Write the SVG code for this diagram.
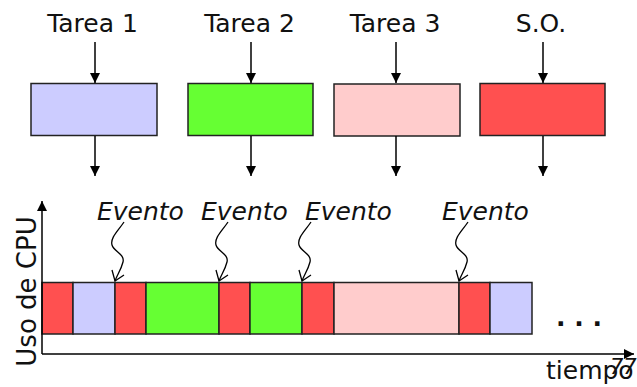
<svg xmlns="http://www.w3.org/2000/svg" width="637" height="387" viewBox="0 0 637 387">
  <style>
    .lbl { font-family: "DejaVu Sans", Verdana, sans-serif; font-size: 25px; fill: #111; }
    .ev { font-family: "DejaVu Sans", Verdana, sans-serif; font-size: 25px; font-style: italic; fill: #111; }
    .box { stroke: #222; stroke-width: 1.5; }
    .seg { stroke: #222; stroke-width: 1.5; }
    .line { stroke: #000; stroke-width: 1.5; fill: none; }
    .sq { stroke: #000; stroke-width: 1.3; fill: none; }
    .so { fill: #FF5050; }
    .t1 { fill: #CCCCFF; }
    .t2 { fill: #66FF33; }
    .t3 { fill: #FFCCCC; }
  </style>
  <defs>
    <marker id="head" viewBox="0 0 10 10" refX="10" refY="5" markerWidth="10" markerHeight="10" markerUnits="userSpaceOnUse" orient="auto">
      <path d="M0,0 L10,5 L0,10 Z" fill="#000"/>
    </marker>
    <!-- wavy event pointer, tip at (0,0) -->
    <g id="squiggle">
      <path class="sq" d="M9,-59 C3,-50 -5,-43 -3,-36 C-1,-29 10,-27 8,-19 C6,-11 2,-6 0,0"/>
      <path class="sq" d="M-3,-11 L0,0 L9,-6"/>
    </g>
  </defs>

  <!-- task blocks -->
  <g id="tarea1">
    <text class="lbl" x="92.5" y="32" text-anchor="middle">Tarea 1</text>
    <rect class="box t1" x="31" y="83.5" width="126" height="52"/>
  </g>
  <g id="tarea2">
    <text class="lbl" x="249.5" y="32" text-anchor="middle">Tarea 2</text>
    <rect class="box t2" x="188" y="83.5" width="125" height="52"/>
  </g>
  <g id="tarea3">
    <text class="lbl" x="395" y="32" text-anchor="middle">Tarea 3</text>
    <rect class="box t3" x="334" y="84" width="126" height="52"/>
  </g>
  <g id="so">
    <text class="lbl" x="541" y="32" text-anchor="middle">S.O.</text>
    <rect class="box so" x="480" y="83.5" width="125" height="52"/>
  </g>

  <!-- connectors -->
  <g id="connectors">
    <line class="line" x1="95" y1="42" x2="95" y2="83" marker-end="url(#head)"/>
    <line class="line" x1="251" y1="42" x2="251" y2="83" marker-end="url(#head)"/>
    <line class="line" x1="396" y1="42" x2="396" y2="83" marker-end="url(#head)"/>
    <line class="line" x1="543" y1="42" x2="543" y2="83" marker-end="url(#head)"/>
    <line class="line" x1="95" y1="136" x2="95" y2="176" marker-end="url(#head)"/>
    <line class="line" x1="251" y1="136" x2="251" y2="176" marker-end="url(#head)"/>
    <line class="line" x1="396" y1="136" x2="396" y2="176" marker-end="url(#head)"/>
    <line class="line" x1="543" y1="136" x2="543" y2="176" marker-end="url(#head)"/>
  </g>

  <!-- CPU timeline -->
  <g id="timeline">
    <rect class="seg so" x="42" y="282.5" width="31" height="51.5"/>
    <rect class="seg t1" x="73" y="282.5" width="42" height="51.5"/>
    <rect class="seg so" x="115" y="282.5" width="31" height="51.5"/>
    <rect class="seg t2" x="146" y="282.5" width="73" height="51.5"/>
    <rect class="seg so" x="219" y="282.5" width="31" height="51.5"/>
    <rect class="seg t2" x="250" y="282.5" width="52" height="51.5"/>
    <rect class="seg so" x="302" y="282.5" width="32" height="51.5"/>
    <rect class="seg t3" x="334" y="282.5" width="125" height="51.5"/>
    <rect class="seg so" x="459" y="282.5" width="31" height="51.5"/>
    <rect class="seg t1" x="490" y="282.5" width="42" height="51.5"/>
    <text class="lbl" x="556" y="326" style="font-weight:bold">. . .</text>
  </g>

  <!-- axes -->
  <g id="axes">
    <polyline class="line" points="42,354 42,201" marker-end="url(#head)"/>
    <line class="line" x1="42" y1="354" x2="634" y2="354" marker-end="url(#head)"/>
    <text class="lbl" transform="translate(36,291.5) rotate(-90)" text-anchor="middle" style="font-size:26px">Uso de CPU</text>
    <text class="lbl" x="546" y="379">tiempo</text>
    <text class="lbl" x="610" y="374" style="font-size:21px;font-style:italic">77</text>
  </g>

  <!-- events -->
  <g id="eventos">
    <text class="ev" x="97" y="220">Evento</text>
    <text class="ev" x="201" y="220">Evento</text>
    <text class="ev" x="305" y="220">Evento</text>
    <text class="ev" x="442" y="220">Evento</text>
    <use href="#squiggle" x="115" y="281"/>
    <use href="#squiggle" x="219" y="281"/>
    <use href="#squiggle" x="302" y="281"/>
    <use href="#squiggle" x="459" y="281"/>
  </g>
</svg>
